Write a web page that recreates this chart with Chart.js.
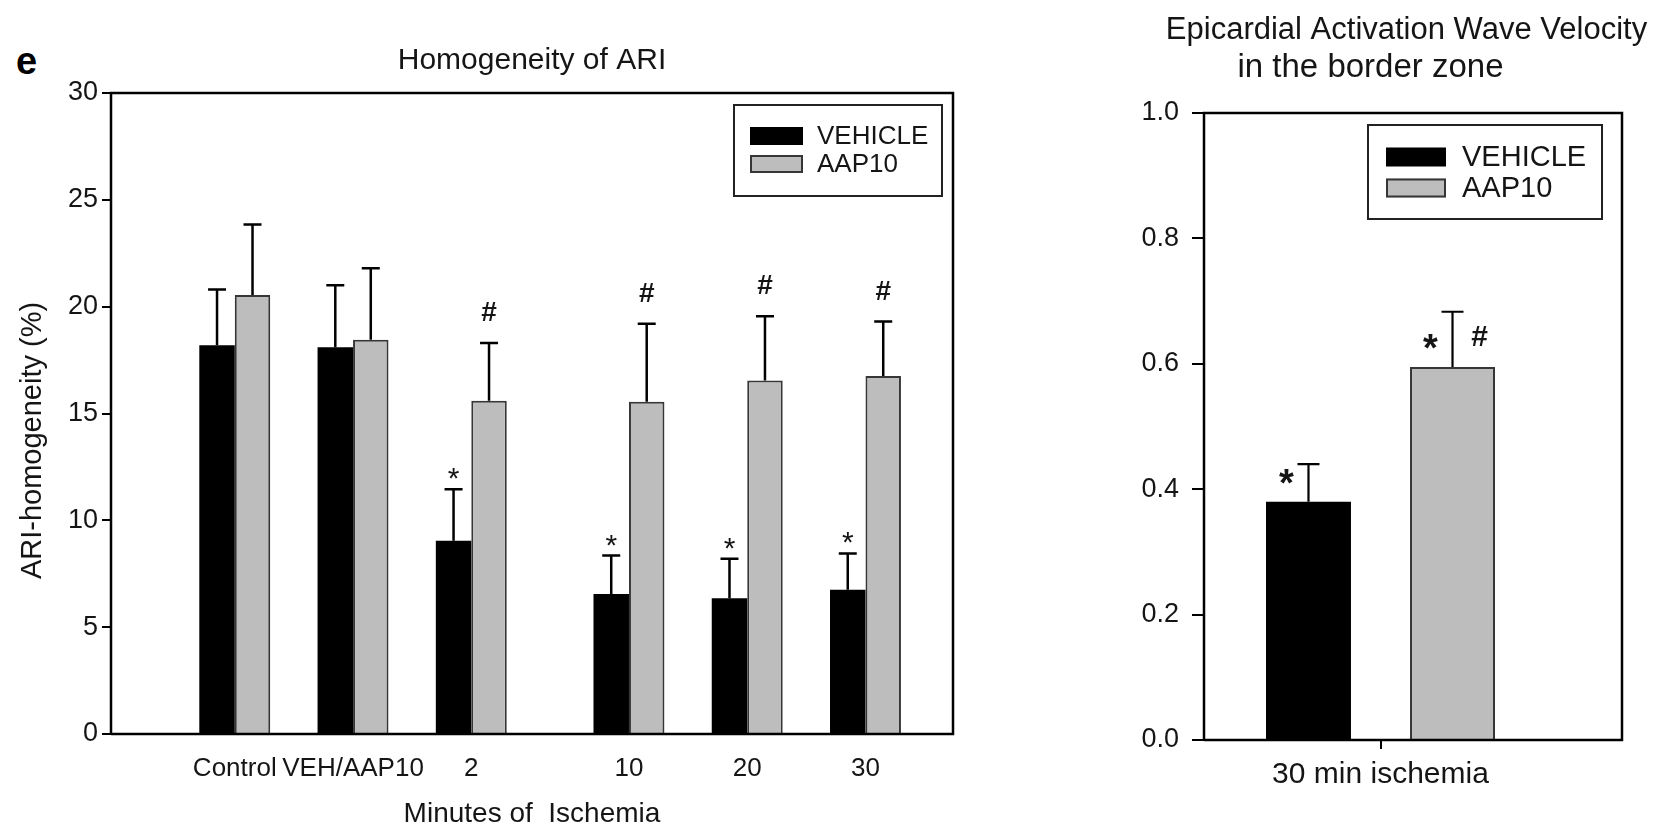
<!DOCTYPE html>
<html>
<head>
<meta charset="utf-8">
<script src="https://cdn.jsdelivr.net/npm/chart.js@4.4.1/dist/chart.umd.min.js"></script>
<style>
  html, body { margin: 0; padding: 0; background: #fff; }
  #page { position: relative; width: 1665px; height: 825px; overflow: hidden; background: #fff; }
  #panel { position: absolute; left: 16px; top: 42px; font: bold 38px 'Liberation Sans', Arial, sans-serif; line-height: 38px; color: #000; }
  #left { position: absolute; left: 0; top: 0; }
  #right { position: absolute; left: 1040px; top: 0; }
</style>
</head>
<body>
<div id="page">
  <div id="panel">e</div>
  <canvas id="left" width="1040" height="825"></canvas>
  <canvas id="right" width="625" height="825"></canvas>
</div>
<script>
// ---- Homogeneity of ARI (mean + SEM) ----
const categories   = ['Control', 'VEH/AAP10', '2', '10', '20', '30'];
const groupSlots   = [0, 3, 6, 10, 13, 16];          // place of each group on the x axis
const vehicleMean  = [18.2, 18.1, 9.05, 6.55, 6.35, 6.75];
const vehicleSem   = [2.6, 2.9, 2.4, 1.8, 1.85, 1.7];
const aap10Mean    = [20.55, 18.45, 15.6, 15.55, 16.55, 16.75];
const aap10Sem     = [3.3, 3.35, 2.7, 3.65, 3.0, 2.55];
const vehicleMarks = ['', '', '*', '*', '*', '*'];
const aap10Marks   = ['', '', '#', '#', '#', '#'];
const ariTicks     = [0, 5, 10, 15, 20, 25, 30];

// ---- Epicardial activation wave velocity (mean + SEM) ----
const velocityCategories = ['30 min ischemia'];
const velocityVehicleMean = [0.38];
const velocityVehicleSem  = [0.06];
const velocityAapMean     = [0.595];
const velocityAapSem      = [0.088];
const velocityVehicleMarks = ['*'];
const velocityAapMarks     = ['*#'];
const velocityTicks = [0, 0.2, 0.4, 0.6, 0.8, 1.0];

const FONT = "'Liberation Sans', Arial, Helvetica, sans-serif";
const INK = '#151515';
const GREY = '#bdbdbd';
const GREY_EDGE = '#363636';

Chart.defaults.font.family = FONT;
Chart.defaults.color = INK;

const atSlots = values => values.map((v, i) => ({ x: groupSlots[i], y: v }));

// closed plot frame drawn over the bars
const framePlugin = {
  id: 'frame',
  afterDatasetsDraw(chart, args, o) {
    const { ctx, chartArea: a } = chart;
    const right = a.right + (o.extraRight || 0);
    ctx.save();
    ctx.strokeStyle = o.color;
    ctx.lineWidth = o.width;
    ctx.beginPath();
    ctx.moveTo(a.left, a.bottom);
    ctx.lineTo(a.left, a.top);
    ctx.lineTo(right, a.top);
    ctx.lineTo(right, a.bottom);
    ctx.lineTo(a.left, a.bottom);
    ctx.stroke();
    ctx.restore();
  }
};

// one-sided SEM whiskers plus significance marks
const errorBarPlugin = {
  id: 'errorBars',
  afterDatasetsDraw(chart, args, o) {
    const { ctx } = chart;
    const yScale = chart.scales.y;
    chart.data.datasets.forEach((ds, di) => {
      const meta = chart.getDatasetMeta(di);
      meta.data.forEach((bar, i) => {
        const raw = ds.data[i];
        const v = typeof raw === 'object' ? raw.y : raw;
        if (v == null) return;
        const top = yScale.getPixelForValue(v + ds.sem[i]);
        ctx.save();
        ctx.strokeStyle = o.color;
        ctx.lineWidth = o.lineWidth;
        ctx.beginPath();
        ctx.moveTo(bar.x, bar.y);
        ctx.lineTo(bar.x, top);
        ctx.moveTo(bar.x - o.cap, top);
        ctx.lineTo(bar.x + o.cap, top);
        ctx.stroke();

        const mark = ds.marks[i] || '';
        ctx.fillStyle = o.markColor;
        ctx.textBaseline = 'alphabetic';
        ctx.textAlign = 'center';
        for (const ch of mark) {
          const isStar = ch === '*';
          ctx.font = isStar ? o.starFont : o.hashFont;
          if (o.mode === 'above') {
            ctx.fillText(ch, bar.x, top - (isStar ? o.starLift : o.hashLift));
          } else {
            const x = bar.x + (isStar ? -o.starDx : o.hashDx);
            const y = bar.y - (isStar ? o.starRise : o.hashRise);
            ctx.fillText(ch, x, y);
          }
        }
        ctx.restore();
      });
    });
  }
};

// boxed legend inside the plot, top right
const boxLegendPlugin = {
  id: 'boxLegend',
  afterDraw(chart, args, o) {
    const { ctx, chartArea: a } = chart;
    const frameRight = a.right + (o.extraRight || 0);
    const bx = frameRight - o.insetRight - o.width;
    const by = a.top + o.insetTop;
    ctx.save();
    ctx.lineWidth = o.borderWidth;
    ctx.strokeStyle = o.borderColor;
    ctx.strokeRect(bx, by, o.width, o.height);
    chart.data.datasets.forEach((ds, i) => {
      const cy = by + o.rowY[i];
      const sx = bx + o.swatchX;
      const sy = cy - o.swatchH / 2;
      ctx.fillStyle = ds.backgroundColor;
      ctx.fillRect(sx, sy, o.swatchW, o.swatchH);
      if (ds.borderWidth) {
        ctx.lineWidth = ds.borderWidth;
        ctx.strokeStyle = ds.borderColor;
        ctx.strokeRect(sx + 1, sy + 1, o.swatchW - 2, o.swatchH - 2);
      }
      ctx.fillStyle = o.color;
      ctx.font = o.font;
      ctx.textAlign = 'left';
      ctx.textBaseline = 'middle';
      ctx.fillText(ds.label, bx + o.textX, cy + 1);
    });
    ctx.restore();
  }
};

// panel heading lines placed relative to the plot centre
const headingPlugin = {
  id: 'heading',
  afterDraw(chart, args, o) {
    const { ctx, chartArea: a } = chart;
    const cx = (a.left + a.right) / 2;
    ctx.save();
    ctx.fillStyle = o.color;
    ctx.textAlign = 'center';
    ctx.textBaseline = 'middle';
    o.lines.forEach((t, k) => {
      ctx.font = Array.isArray(o.font) ? o.font[k] : o.font;
      ctx.fillText(t, cx + (o.dx ? o.dx[k] : 0), o.y[k]);
    });
    ctx.restore();
  }
};

// rotated y-axis caption
const sideTitlePlugin = {
  id: 'sideTitle',
  afterDraw(chart, args, o) {
    if (!o.text) return;
    const { ctx, chartArea: a } = chart;
    ctx.save();
    ctx.translate(o.x, (a.top + a.bottom) / 2 + o.dy);
    ctx.rotate(-Math.PI / 2);
    ctx.font = o.font;
    ctx.fillStyle = o.color;
    ctx.textAlign = 'center';
    ctx.textBaseline = 'middle';
    ctx.fillText(o.text, 0, 0);
    ctx.restore();
  }
};

const plugins = [framePlugin, errorBarPlugin, boxLegendPlugin, headingPlugin, sideTitlePlugin];

// ---------- left panel ----------
new Chart(document.getElementById('left'), {
  type: 'bar',
  data: {
    datasets: [
      { label: 'VEHICLE', data: atSlots(vehicleMean), sem: vehicleSem, marks: vehicleMarks,
        backgroundColor: '#000', borderWidth: 0, categoryPercentage: 0.6, barPercentage: 1 },
      { label: 'AAP10', data: atSlots(aap10Mean), sem: aap10Sem, marks: aap10Marks,
        backgroundColor: GREY, borderColor: GREY_EDGE, borderWidth: 2, categoryPercentage: 0.6, barPercentage: 1 }
    ]
  },
  options: {
    responsive: false,
    animation: false,
    layout: { padding: { top: 93, right: 87, bottom: 0, left: 0 } },
    plugins: {
      legend: { display: false },
      tooltip: { enabled: false },
      title: { display: false },
      frame: { color: '#000', width: 2.5 },
      errorBars: { color: '#000', lineWidth: 2.5, cap: 9, markColor: INK, mode: 'above',
                   starFont: '30px ' + FONT, hashFont: 'bold 28px ' + FONT, starLift: 1, hashLift: 22 },
      boxLegend: { width: 208, height: 91, insetRight: 11, insetTop: 12, borderWidth: 2, borderColor: '#222',
                   swatchX: 16, swatchW: 53, swatchH: 18, textX: 83, rowY: [31, 59],
                   font: '26px ' + FONT, color: INK },
      heading: { lines: ['Homogeneity of ARI'], y: [61], font: '30px ' + FONT, color: INK },
      sideTitle: { text: 'ARI-homogeneity (%)', x: 33, dy: 27, font: '29px ' + FONT, color: INK }
    },
    scales: {
      x: {
        type: 'linear',
        offset: false,
        min: -3.14, max: 18.22,
        afterBuildTicks(s) { s.ticks = groupSlots.map(v => ({ value: v })); },
        grid: { display: false },
        border: { display: false },
        ticks: { autoSkip: false, maxRotation: 0, minRotation: 0, padding: 11, font: { size: 26, lineHeight: 1.2 }, color: INK,
                 callback: v => categories[groupSlots.indexOf(v)] },
        title: { display: true, text: 'Minutes of  Ischemia', font: { size: 28, lineHeight: 0.8 }, padding: { top: 0, bottom: 0 }, color: INK },
        afterFit(s) { s.height = 91; }
      },
      y: {
        min: 0, max: 30,
        afterBuildTicks(s) { s.ticks = ariTicks.map(v => ({ value: v })); },
        grid: { drawOnChartArea: false, drawTicks: true, tickLength: 9, color: '#000', lineWidth: 2 },
        border: { display: false },
        ticks: { padding: 4, font: { size: 27 }, color: INK },
        afterFit(s) { s.width = 111; }
      }
    }
  },
  plugins
});

// ---------- right panel ----------
new Chart(document.getElementById('right'), {
  type: 'bar',
  data: {
    labels: velocityCategories,
    datasets: [
      { label: 'VEHICLE', data: velocityVehicleMean, sem: velocityVehicleSem, marks: velocityVehicleMarks,
        backgroundColor: '#000', borderWidth: 0, categoryPercentage: 0.816, barPercentage: 0.59 },
      { label: 'AAP10', data: velocityAapMean, sem: velocityAapSem, marks: velocityAapMarks,
        backgroundColor: GREY, borderColor: GREY_EDGE, borderWidth: 2, categoryPercentage: 0.816, barPercentage: 0.59 }
    ]
  },
  options: {
    responsive: false,
    animation: false,
    layout: { padding: { top: 113, right: 108, bottom: 0, left: 0 } },
    plugins: {
      legend: { display: false },
      tooltip: { enabled: false },
      title: { display: false },
      frame: { color: '#000', width: 2.5, extraRight: 65 },
      errorBars: { color: '#000', lineWidth: 2.2, cap: 11, markColor: INK, mode: 'flank',
                   starFont: 'bold 38px ' + FONT, hashFont: 'bold 30px ' + FONT,
                   starDx: 22, hashDx: 27, starRise: 6, hashRise: 21 },
      boxLegend: { extraRight: 65, width: 234, height: 94, insetRight: 20, insetTop: 12, borderWidth: 2, borderColor: '#222',
                   swatchX: 18, swatchW: 60, swatchH: 19, textX: 94, rowY: [32, 63],
                   font: '29px ' + FONT, color: INK },
      heading: { lines: ['Epicardial Activation Wave Velocity', 'in the border zone'], y: [30, 68], dx: [26, -10],
                 font: ['31px ' + FONT, '33px ' + FONT], color: INK }
    },
    scales: {
      x: {
        grid: { display: true, offset: false, drawOnChartArea: false, drawTicks: true, tickLength: 9, color: '#000', lineWidth: 2 },
        border: { display: false },
        ticks: { padding: 8, font: { size: 30, lineHeight: 1.2 }, color: INK },
        afterFit(s) { s.height = 85; }
      },
      y: {
        min: 0, max: 1,
        afterBuildTicks(s) { s.ticks = velocityTicks.map(v => ({ value: v })); },
        grid: { drawOnChartArea: false, drawTicks: true, tickLength: 12, color: '#000', lineWidth: 2 },
        border: { display: false },
        ticks: { padding: 13, font: { size: 27 }, color: INK, callback: v => Number(v).toFixed(1) },
        afterFit(s) { s.width = 164; }
      }
    }
  },
  plugins
});
</script>
</body>
</html>
